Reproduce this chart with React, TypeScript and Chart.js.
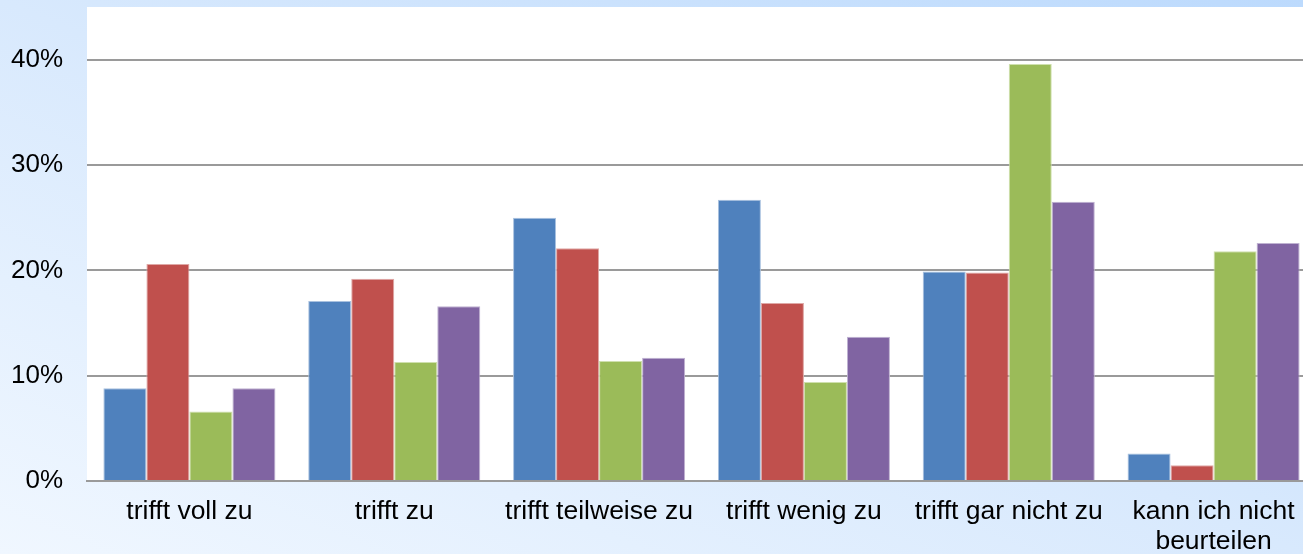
import React, { useEffect, useRef } from "react";
import { Chart, registerables } from "chart.js";

Chart.register(...registerables);

const categories: (string | string[])[] = [
  "trifft voll zu",
  "trifft zu",
  "trifft teilweise zu",
  "trifft wenig zu",
  "trifft gar nicht zu",
  ["kann ich nicht", "beurteilen"],
];

const series1 = [8.8, 17.1, 25.0, 26.7, 19.9, 2.6];
const series2 = [20.6, 19.2, 22.1, 16.9, 19.8, 1.5];
const series3 = [6.6, 11.3, 11.4, 9.4, 39.6, 21.8];
const series4 = [8.8, 16.6, 11.7, 13.7, 26.5, 22.6];

const seriesNames = ["Reihe 1", "Reihe 2", "Reihe 3", "Reihe 4"];
const colors = ["#4f81bd", "#c0504d", "#9bbb59", "#8064a2"];
const borderColors = ["#a9c1df", "#dfa8a6", "#cfe0ae", "#bfb2d1"];

const yTicks = [0, 10, 20, 30, 40];

const whiteArea = {
  id: "whiteArea",
  beforeDraw(chart: any) {
    const { ctx, chartArea } = chart;
    ctx.save();
    ctx.fillStyle = "#ffffff";
    ctx.fillRect(chartArea.left, chartArea.top, chartArea.right - chartArea.left, chartArea.bottom - chartArea.top);
    ctx.restore();
  },
};

export default function App() {
  const ref = useRef<HTMLCanvasElement | null>(null);

  useEffect(() => {
    if (!ref.current) return;
    const data = [series1, series2, series3, series4];
    const chart = new Chart(ref.current, {
      type: "bar",
      data: {
        labels: categories,
        datasets: data.map((d, i) => ({
          label: seriesNames[i],
          data: d,
          backgroundColor: colors[i],
          borderColor: borderColors[i],
          borderWidth: 1,
          categoryPercentage: 0.84,
          barPercentage: 1,
        })),
      },
      options: {
        responsive: false,
        animation: false,
        layout: { padding: { top: 7, left: 0, right: 0, bottom: 0 } },
        plugins: {
          legend: { display: false },
          tooltip: { enabled: false },
        },
        scales: {
          x: {
            grid: { display: false, drawTicks: false },
            border: { display: true, color: "#9a9a9a", width: 2 },
            ticks: {
              color: "#000000",
              padding: 15,
              maxRotation: 0,
              autoSkip: false,
              font: { family: "'Liberation Sans', Arial, sans-serif", size: 26.5, lineHeight: 1.15 },
            },
            afterFit(scale: any) {
              scale.height = 73;
              scale.paddingLeft = 0;
              scale.paddingRight = 0;
            },
          },
          y: {
            min: 0,
            max: 45,
            grid: {
              color: (ctx: any) => (ctx.tick && yTicks.includes(ctx.tick.value) ? "#9a9a9a" : "rgba(0,0,0,0)"),
              lineWidth: 2,
              drawTicks: false,
            },
            border: { display: false },
            afterBuildTicks(scale: any) {
              scale.ticks = yTicks.map((v) => ({ value: v }));
            },
            ticks: {
              color: "#000000",
              padding: 24,
              font: { family: "'Liberation Sans', Arial, sans-serif", size: 26 },
              callback: (v: any) => v + "%",
            },
            afterFit(scale: any) {
              scale.width = 87;
              scale.paddingTop = 0;
              scale.paddingBottom = 0;
            },
          },
        },
      },
      plugins: [whiteArea],
    });
    return () => chart.destroy();
  }, []);

  return (
    <div
      style={{
        position: "absolute",
        left: 0,
        top: 0,
        width: 1303,
        height: 554,
        overflow: "hidden",
        background: "linear-gradient(to top right, #f0f7ff 0%, #d8e9fd 50%, #bcdafd 100%)",
      }}
    >
      <canvas ref={ref} width={1316} height={554} style={{ display: "block" }} />
    </div>
  );
}
